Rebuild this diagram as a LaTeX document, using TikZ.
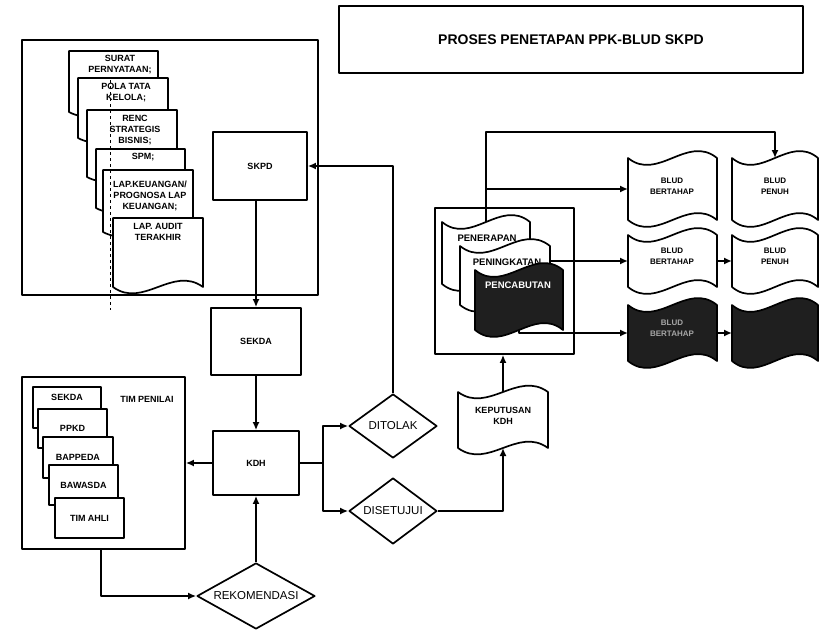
\documentclass[tikz,border=0pt]{standalone}
\usepackage{fontspec}
\setmainfont{Liberation Sans}
\usetikzlibrary{arrows.meta,shapes.geometric}
\newcommand\lbl{\bfseries\fontsize{9}{11}\selectfont}
% tape: L T R B amp style
\newcommand\tapeshape[6]{%
  \draw[#6] (#1,#2) .. controls ({#1+(#3-#1)/3},{#2+#5}) and ({#3-(#3-#1)/3},{#2-#5}) .. (#3,#2)
    -- (#3,#4) .. controls ({#3-(#3-#1)/3},{#4-#5}) and ({#1+(#3-#1)/3},{#4+#5}) .. (#1,#4) -- cycle;}
% document: L T R B amp style
\newcommand\docshape[6]{%
  \draw[#6] (#1,#4) -- (#1,#2) -- (#3,#2) -- (#3,#4)
    .. controls ({#3-(#3-#1)/3},{#4-#5}) and ({#1+(#3-#1)/3},{#4+#5}) .. (#1,#4) -- cycle;}
% invisible anchor region: name L T R B
\newcommand\region[5]{%
  \node[inner sep=0,outer sep=0,minimum width={(#4-#2)*1pt},minimum height={(#5-#3)*1pt}] (#1) at ({(#2+#4)/2},{(#3+#5)/2}) {};}
\begin{document}
\begin{tikzpicture}[x=1pt,y=-1pt,
  line width=1.7pt, line join=round,
  >={Latex[length=8pt,width=7pt]},
  box/.style={draw, fill=white, inner sep=0, font=\lbl, align=center},
  lab/.style={inner sep=0, font=\lbl, align=center},
  plab/.style={inner sep=0, font=\bfseries\fontsize{9.5}{11}\selectfont, align=center},
  blab/.style={inner sep=0, font=\bfseries\fontsize{8}{11}\selectfont, align=center},
  dlab/.style={inner sep=0, font=\fontsize{11.5}{13}\selectfont},
  diam/.style={draw, diamond, inner sep=0, fill=white},
  dark/.style={draw, fill=black!88},
  lite/.style={draw, fill=white}]
\useasboundingbox (0,0) rectangle (831,632);

% title
\node[draw, minimum width=464pt, minimum height=67pt, inner sep=0,
  font=\bfseries\fontsize{14}{16}\selectfont] (title) at (571,39.5) {PROSES PENETAPAN PPK-BLUD SKPD};

% top-left box with documents
\node[draw, minimum width=296pt, minimum height=255pt, inner sep=0] (docs) at (170,167.5) {};
\docshape{69}{51}{158}{112}{16}{lite}
\node[lab] (d1) at (120,65) {SURAT\\PERNYATAAN;};
\docshape{78}{78}{168}{138}{16}{lite}
\node[lab] (d2) at (126,92.5) {POLA TATA\\KELOLA;};
\docshape{87}{110}{177}{177}{16}{lite}
\node[lab] (d3) at (135,130) {RENC\\STRATEGIS\\BISNIS;};
\docshape{96}{149}{185}{208}{16}{lite}
\node[lab] (d4) at (143,157) {SPM;};
\docshape{103}{170}{193}{232}{16}{lite}
\node[lab] (d5) at (150,196) {LAP.KEUANGAN/\\PROGNOSA LAP\\KEUANGAN;};
\docshape{113}{218}{203}{287}{22}{lite}
\node[lab] (d6) at (158,232) {LAP. AUDIT\\TERAKHIR};
\coordinate (dashtop) at (110,80);
\coordinate (dashbot) at (110,310);
\draw[dashed, line width=1pt] (dashtop) -- (dashbot);

% main column
\node[box, minimum width=94pt, minimum height=68pt] (SKPD) at (260,166) {SKPD};
\node[box, minimum width=90pt, minimum height=67pt] (SEKDA) at (256,341.5) {SEKDA};
\node[box, minimum width=86pt, minimum height=64pt] (KDH) at (256,463) {KDH};

% tim penilai
\node[draw, minimum width=163pt, minimum height=172pt, inner sep=0] (TP) at (103.5,463) {};
\node[box, minimum width=68pt, minimum height=41pt] (s1) at (67,407.5) {};
\node[lab] at (67,397) {SEKDA};
\node[box, minimum width=69pt, minimum height=39pt] (s2) at (72.5,428.5) {PPKD};
\node[box, minimum width=70pt, minimum height=41pt] (s3) at (78,457.5) {BAPPEDA};
\node[box, minimum width=69pt, minimum height=40pt] (s4) at (83.5,485) {BAWASDA};
\node[box, minimum width=69pt, minimum height=40pt] (s5) at (89.5,518) {TIM AHLI};
\node[lab] (tpl) at (147,399) {TIM PENILAI};

% diamonds
\node[diam, minimum width=118pt, minimum height=66pt, label={[dlab]center:REKOMENDASI}] (REK) at (256,596) {};
\node[diam, minimum width=88pt, minimum height=64pt, label={[dlab]center:DITOLAK}] (DIT) at (393,426) {};
\node[diam, minimum width=88pt, minimum height=66pt, label={[dlab]center:DISETUJUI}] (DIS) at (393,511) {};

% keputusan
\tapeshape{458}{392}{548}{448}{22}{lite}
\region{KEP}{458}{392}{548}{448}
\node[lab] at (503,416) {KEPUTUSAN\\KDH};

% right box
\node[draw, minimum width=139pt, minimum height=146pt, inner sep=0] (RB) at (504.5,281) {};
\tapeshape{442}{222}{530}{284}{24}{lite}
\region{PEN}{442}{222}{530}{284}
\node[plab] at (487,238) {PENERAPAN};
\tapeshape{460}{246}{550}{305}{24}{lite}
\region{PENI}{460}{246}{550}{305}
\node[plab] at (507,262) {PENINGKATAN};
\tapeshape{475}{270}{563}{330}{24}{dark}
\region{PENC}{475}{270}{563}{330}
\node[plab, text=white] at (518,285) {PENCABUTAN};

% BLUD outcomes
\tapeshape{628}{158}{717}{220}{24}{lite}
\region{B1}{628}{158}{717}{220}
\node[blab] at (672,186) {BLUD\\BERTAHAP};
\tapeshape{732}{158}{818}{220}{24}{lite}
\region{P1}{732}{158}{818}{220}
\node[blab] at (775,186) {BLUD\\PENUH};
\tapeshape{628}{235}{717}{287}{24}{lite}
\region{B2}{628}{235}{717}{287}
\node[blab] at (672,256) {BLUD\\BERTAHAP};
\tapeshape{732}{235}{818}{287}{24}{lite}
\region{P2}{732}{235}{818}{287}
\node[blab] at (775,256) {BLUD\\PENUH};
\tapeshape{628}{305}{717}{361}{24}{dark}
\region{B3}{628}{305}{717}{361}
\node[blab, text=black!35] at (672,328) {BLUD\\BERTAHAP};
\tapeshape{732}{305}{818}{361}{24}{dark}
\region{P3}{732}{305}{818}{361}

% connectors
\draw[->] (SEKDA.north |- SKPD.south) -- (SEKDA.north);
\draw[->] (SEKDA.south) -- (KDH.north);
\draw[->] (KDH.west) -- (KDH.west -| TP.east);
\draw[->] ([xshift=80pt]TP.south west) |- (REK.west);
\draw[->] (REK.north) -- (KDH.south);
\coordinate (J) at (323,463);
\draw (KDH.east) -- (J);
\draw[->] (J) |- (DIT.west);
\draw[->] (J) |- (DIS.west);
\draw[->] (DIT.north) |- (SKPD.east);
\draw[->] (DIS.east) -| (KEP.south);
\draw[->] (KEP.north) -- (KEP.north |- RB.south);
\coordinate (topline) at (486,132);
\draw[->] (PEN.north) -- (topline) -| (P1.north);
\draw[->] (PEN.north |- B1.west) -- (B1.west);
\draw[->] (B2.west -| PENI.east) -- (B2.west);
\draw[->] (B2.east) -- (P2.west);
\draw[->] (PENC.south) |- (B3.west);
\draw[->] (B3.east) -- (P3.west);
\end{tikzpicture}
\end{document}
